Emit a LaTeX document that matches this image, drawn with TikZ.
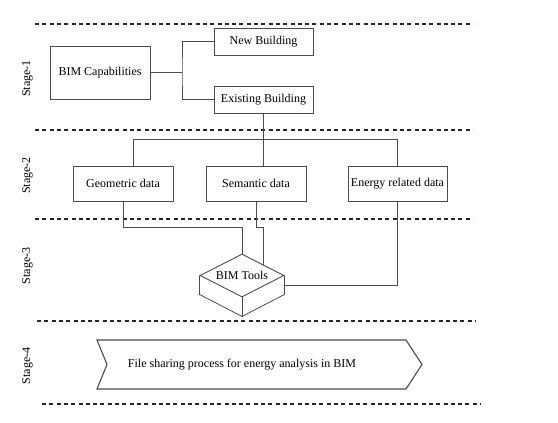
\documentclass[tikz,border=0pt]{standalone}
\usepackage{fontspec}
\setmainfont{Liberation Serif}
\usepackage{tikz}
\usetikzlibrary{shapes.geometric}

\tikzset{
  stagebox/.style = {draw=black!70, line width=0.9pt, inner sep=1pt, font=\fontsize{12}{14}\selectfont},
  link/.style = {draw=black!70, line width=0.8pt},
  stagesep/.style = {draw=black!85, line width=1.6pt, dash pattern=on 4pt off 3.3pt},
  stagelabel/.style = {rotate=90, font=\fontsize{12}{14}\selectfont}
}

\begin{document}
\begin{tikzpicture}[x=1pt, y=-1pt]
    \useasboundingbox (0, 0) rectangle (558, 423);
    % Stage separators
    \draw [stagesep] (35, 24) -- (473, 24);
    \draw [stagesep] (35, 130) -- (473, 130);
    \draw [stagesep] (35, 219) -- (473, 219);
    \draw [stagesep] (37, 321) -- (476, 321);
    \draw [stagesep] (42, 404) -- (481, 404);
    \node [stagelabel] (stageA) at (27.5, 78.5) {Stage-1};
    \node [stagelabel] (stageB) at (27.5, 175.5) {Stage-2};
    \node [stagelabel] (stageC) at (27.5, 266) {Stage-3};
    \node [stagelabel] (stageD) at (27.5, 366) {Stage-4};
    \begin{scope} % Stage 1: capabilities
        \node [stagebox, minimum width=100pt, minimum height=53pt] (cap) at (100, 72.5)
          {BIM Capabilities};
        \node [stagebox, minimum width=99pt, minimum height=27pt] (newb) at (263.5, 41.5)
          {New Building};
        \node [stagebox, minimum width=99pt, minimum height=27pt] (exist) at (263.5, 99.5)
          {Existing Building};
        \coordinate (split) at (182, 72.5);
        \draw [link] (cap.east) -- (split);
        \draw [link] (newb.west) -| (split) |- (exist.west);
    \end{scope}
    \begin{scope} % Stage 2: data types
        \node [stagebox, minimum width=100pt, minimum height=35pt] (geo) at (123, 183.5)
          {Geometric data};
        \node [stagebox, minimum width=100pt, minimum height=35pt] (sem) at (256, 183.5)
          {Semantic data};
        \node [stagebox, minimum width=99pt, minimum height=35pt] (energy) at (397.5, 183.5)
          {Energy related data};
        \coordinate (busL) at (133, 139);
        \coordinate (busR) at (397.5, 139);
        \draw [link] (exist.south) -- (exist.south |- sem.north);
        \draw [link] (busL |- geo.north) -- (busL) -- (busR) -- (energy.north);
    \end{scope}
    \begin{scope} % Stage 3: tools
        \node [stagebox, shape=diamond, aspect=1.95, inner sep=0pt,
          minimum width=84pt, minimum height=43pt, fill=white] (tools) at (242, 275.5)
          {BIM Tools};
        \draw [link] (tools.west) -- ([yshift=-19pt]tools.west)
          -- ([yshift=-19pt]tools.south) -- ([yshift=-19pt]tools.east) -- (tools.east);
        \draw [link] (tools.south) -- ([yshift=-19pt]tools.south);
        \draw [link] (geo.south) -- ([yshift=-26pt]geo.south) -| (tools.north);
        \draw [link] (sem.south) -- ([yshift=-26pt]sem.south) -| (tools.north east);
        \draw [link] (energy.south) |- ([yshift=-9.5pt]tools.east);
    \end{scope}
    \begin{scope} % Stage 4: file sharing
        \draw [draw=black!70, line width=1.1pt]
          (97, 340) -- (406, 340) -- (422, 364.5) -- (406, 389)
          -- (97, 389) -- (107, 364.5) -- cycle;
        \node [font=\fontsize{12}{14}\selectfont] (share) at (242, 364.5)
          {File sharing process for energy analysis in BIM};
    \end{scope}
\end{tikzpicture}
\end{document}
